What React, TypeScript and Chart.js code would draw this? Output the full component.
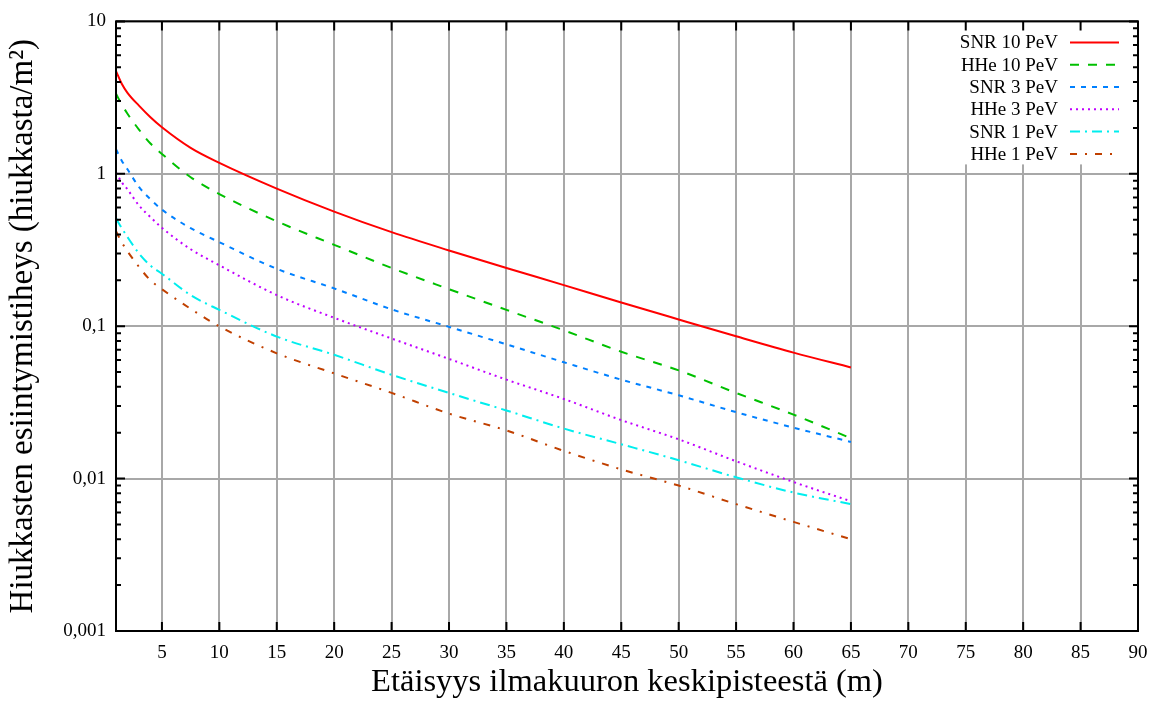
import { useEffect, useRef } from 'react';
import { Chart, registerables } from 'chart.js';

Chart.register(...registerables);

// Distance from the shower core (m)
const distances = [1, 1.5, 2, 3, 4, 5, 7.5, 10, 15, 20, 25, 30, 35, 40, 45, 50, 55, 60, 65];

// Particle densities (particles / m²)
const snr10 = [4.72, 3.9, 3.4, 2.8, 2.35, 2.02, 1.48, 1.18, 0.8, 0.565, 0.414, 0.314, 0.241, 0.186, 0.143, 0.1107, 0.0859, 0.0671, 0.0536];
const hhe10 = [3.35, 2.85, 2.48, 1.95, 1.58, 1.35, 0.95, 0.736, 0.488, 0.342, 0.241, 0.175, 0.128, 0.094, 0.068, 0.0513, 0.0365, 0.0263, 0.0184];
const snr3 = [1.45, 1.22, 1.07, 0.82, 0.68, 0.582, 0.44, 0.356, 0.238, 0.177, 0.129, 0.099, 0.076, 0.058, 0.0446, 0.0352, 0.0273, 0.0216, 0.0174];
const hhe3 = [1.02, 0.88, 0.79, 0.62, 0.52, 0.442, 0.32, 0.251, 0.16, 0.1135, 0.083, 0.061, 0.0446, 0.0333, 0.0242, 0.0181, 0.013, 0.0095, 0.0071];
const snr1 = [0.51, 0.44, 0.385, 0.3, 0.25, 0.221, 0.16, 0.128, 0.0855, 0.0649, 0.048, 0.0365, 0.028, 0.0213, 0.0168, 0.0132, 0.0102, 0.0081, 0.0068];
const hhe1 = [0.42, 0.355, 0.31, 0.245, 0.2, 0.175, 0.13, 0.0998, 0.0664, 0.049, 0.0365, 0.0267, 0.0207, 0.0152, 0.0115, 0.009, 0.0068, 0.0052, 0.004];

const seriesLabels = ['SNR 10 PeV', 'HHe 10 PeV', 'SNR 3 PeV', 'HHe 3 PeV', 'SNR 1 PeV', 'HHe 1 PeV'];
const seriesValues = [snr10, hhe10, snr3, hhe3, snr1, hhe1];
const seriesColors = ['#ff0000', '#00c000', '#0080ff', '#c000ff', '#00eeee', '#c04000'];
const seriesDashes: number[][] = [[], [9, 9], [5, 6], [2, 4], [10, 5, 2, 5], [7, 8, 2, 8]];

const xTicks = [5, 10, 15, 20, 25, 30, 35, 40, 45, 50, 55, 60, 65, 70, 75, 80, 85, 90];
const yTicks = [0.001, 0.01, 0.1, 1, 10];
const yTickLabels = ['0,001', '0,01', '0,1', '1', '10'];

const xTitle = 'Etäisyys ilmakuuron keskipisteestä (m)';
const yTitle = 'Hiukkasten esiintymistiheys (hiukkasta/m²)';

const SERIF = "'Liberation Serif', 'Times New Roman', serif";

// Gnuplot-like frame: inward ticks, minor log ticks, and an unboxed key
const frameAndKey = {
  id: 'frameAndKey',
  afterDatasetsDraw(chart: any) {
    const { ctx, chartArea } = chart;
    const { left, right, top, bottom } = chartArea;
    const xs = chart.scales.x;
    const ys = chart.scales.y;
    ctx.save();

    // key backdrop hides the grid behind the key
    const keyLeft = right - 200;
    const keyBottom = top + 142;
    ctx.fillStyle = '#ffffff';
    ctx.fillRect(keyLeft, top + 1, right - keyLeft - 4, keyBottom - top);

    // key entries
    ctx.font = `19px ${SERIF}`;
    ctx.textAlign = 'right';
    ctx.textBaseline = 'middle';
    chart.data.datasets.forEach((ds: any, i: number) => {
      const yy = top + 21 + i * 22.3;
      ctx.fillStyle = '#000';
      ctx.fillText(ds.label, right - 80, yy + 1);
      ctx.strokeStyle = ds.borderColor;
      ctx.lineWidth = 2;
      ctx.setLineDash(ds.borderDash || []);
      ctx.beginPath();
      ctx.moveTo(right - 68, yy);
      ctx.lineTo(right - 19, yy);
      ctx.stroke();
    });
    ctx.setLineDash([]);

    // ticks
    ctx.strokeStyle = '#000';
    ctx.lineWidth = 2;
    ctx.beginPath();
    for (let d = 0; d < yTicks.length; d++) {
      const major = ys.getPixelForValue(yTicks[d]);
      ctx.moveTo(left, major);
      ctx.lineTo(left + 9, major);
      ctx.moveTo(right, major);
      ctx.lineTo(right - 9, major);
      if (d < yTicks.length - 1) {
        for (let k = 2; k <= 9; k++) {
          const py = ys.getPixelForValue(yTicks[d] * k);
          ctx.moveTo(left, py);
          ctx.lineTo(left + 5, py);
          ctx.moveTo(right, py);
          ctx.lineTo(right - 5, py);
        }
      }
    }
    xTicks.forEach((v) => {
      const px = xs.getPixelForValue(v);
      ctx.moveTo(px, bottom);
      ctx.lineTo(px, bottom - 9);
      ctx.moveTo(px, top);
      ctx.lineTo(px, top + 9);
    });
    ctx.stroke();

    // border
    ctx.lineWidth = 2;
    ctx.strokeRect(left, top, right - left, bottom - top);
    ctx.restore();
  },
};

export default function App() {
  const canvasRef = useRef<HTMLCanvasElement | null>(null);

  useEffect(() => {
    if (!canvasRef.current) return;
    const chart = new Chart(canvasRef.current, {
      type: 'line',
      data: {
        datasets: seriesLabels.map((label, i) => ({
          label,
          data: distances.map((d, j) => ({ x: d, y: seriesValues[i][j] })),
          borderColor: seriesColors[i],
          backgroundColor: seriesColors[i],
          borderDash: seriesDashes[i],
          borderWidth: 2,
          pointRadius: 0,
          fill: false,
          cubicInterpolationMode: 'monotone' as const,
        })),
      },
      options: {
        responsive: false,
        animation: false,
        layout: { padding: { top: 18, right: 22, left: 0, bottom: 0 } },
        plugins: {
          legend: { display: false },
          tooltip: { enabled: false },
        },
        scales: {
          x: {
            type: 'linear',
            min: 1,
            max: 90,
            afterBuildTicks: (scale: any) => {
              scale.ticks = xTicks.map((v) => ({ value: v }));
            },
            afterFit: (scale: any) => {
              scale.height = 71;
            },
            grid: { color: '#a8a8a8', lineWidth: 2, drawTicks: false },
            border: { display: false },
            ticks: {
              padding: 11,
              color: '#000',
              font: { family: SERIF, size: 19 },
              callback: (v: any) => String(v),
              maxRotation: 0,
            },
            title: {
              display: true,
              text: xTitle,
              color: '#000',
              font: { family: SERIF, size: 32.5 },
              padding: { top: 0, bottom: 0 },
            },
          },
          y: {
            type: 'logarithmic',
            min: 0.001,
            max: 10,
            afterBuildTicks: (scale: any) => {
              scale.ticks = yTicks.map((v) => ({ value: v }));
            },
            afterFit: (scale: any) => {
              scale.width = 116;
            },
            grid: { color: '#a8a8a8', lineWidth: 2, drawTicks: false },
            border: { display: false },
            ticks: {
              padding: 10,
              color: '#000',
              font: { family: SERIF, size: 19 },
              callback: (v: any) => {
                const idx = yTicks.findIndex((t) => Math.abs(t - v) / t < 1e-6);
                return idx >= 0 ? yTickLabels[idx] : '';
              },
            },
            title: {
              display: true,
              text: yTitle,
              color: '#000',
              font: { family: SERIF, size: 33 },
              padding: { top: 4, bottom: 0 },
            },
          },
        },
      },
      plugins: [frameAndKey],
    } as any);
    return () => chart.destroy();
  }, []);

  return (
    <div style={{ position: 'fixed', left: 0, top: 0, width: 1160, height: 702, background: '#fff' }}>
      <canvas ref={canvasRef} width={1160} height={702} />
    </div>
  );
}
